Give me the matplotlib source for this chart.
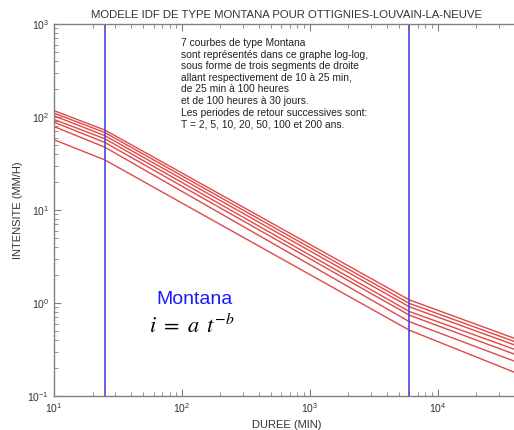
import numpy as np
import matplotlib
matplotlib.use("Agg")
import matplotlib.pyplot as plt

# Periodes de retour (ans)
periods = [2, 5, 10, 20, 50, 100, 200]

# Durees des noeuds des trois segments (min) : 10 min, 25 min, 100 h, 30 jours
node_durations = [10, 25, 6000, 43200]

# Intensites lues aux noeuds (mm/h), une liste par noeud, T croissant
i_10min = [57, 79, 88, 94, 103, 110, 117]
i_25min = [34.5, 47.3, 53.2, 58.3, 63, 68, 72.4]
i_100h = [0.51, 0.63, 0.74, 0.81, 0.91, 0.99, 1.08]
i_30j = [0.172, 0.227, 0.27, 0.305, 0.34, 0.37, 0.40]

# Limites des segments (lignes verticales)
breaks = [25, 6000]

info_text = ("7 courbes de type Montana\n"
             "sont représentés dans ce graphe log-log,\n"
             "sous forme de trois segments de droite\n"
             "allant respectivement de 10 à 25 min,\n"
             "de 25 min à 100 heures\n"
             "et de 100 heures à 30 jours.\n"
             "Les periodes de retour successives sont:\n"
             "T = 2, 5, 10, 20, 50, 100 et 200 ans.")

plt.rcParams['font.family'] = ['Liberation Sans', 'DejaVu Sans']
plt.rcParams['mathtext.fontset'] = 'stix'

W, H = 514, 430
fig = plt.figure(figsize=(W / 100, H / 100), dpi=100)
ax = fig.add_axes([54 / W, 34 / H, 465 / W, 372 / H])

gray = "#808080"
for k in range(len(periods)):
    vals = [i_10min[k], i_25min[k], i_100h[k], i_30j[k]]
    ax.plot(node_durations, vals, color="#e04848", lw=1.0)

for b in breaks:
    ax.axvline(b, color="#4848d8", lw=1.2)

ax.set_xscale("log")
ax.set_yscale("log")
ax.set_xlim(10, 43200)
ax.set_ylim(0.1, 1000)

for s in ax.spines.values():
    s.set_color(gray)
    s.set_linewidth(1.0)

ax.tick_params(which="both", direction="in", top=True, right=False,
               colors=gray, labelcolor="#333333", labelsize=7.5)
ax.tick_params(which="major", length=5)
ax.tick_params(which="minor", length=3)

ax.set_title("MODELE IDF DE TYPE MONTANA POUR OTTIGNIES-LOUVAIN-LA-NEUVE",
             fontsize=8.2, color="#333333", pad=4)
ax.set_xlabel("DUREE (MIN)", fontsize=8, color="#333333", labelpad=4)
fig.text(18 / W, 1 - 210 / H, "INTENSITE (MM/H)", fontsize=8, color="#333333",
         rotation=90, ha="center", va="center")

fig.text(181 / W, 1 - 38 / H, info_text, fontsize=7.4, color="#222222",
         va="top", ha="left", linespacing=1.2)

ax.text(63, 1.1, "Montana", fontsize=14, color="#1a1aff", ha="left", va="center")
ax.text(55, 0.56, r"$i\ =\ a\ \,t^{-b}$", fontsize=16, color="black",
        ha="left", va="center")

fig.savefig("out.png", dpi=100)
